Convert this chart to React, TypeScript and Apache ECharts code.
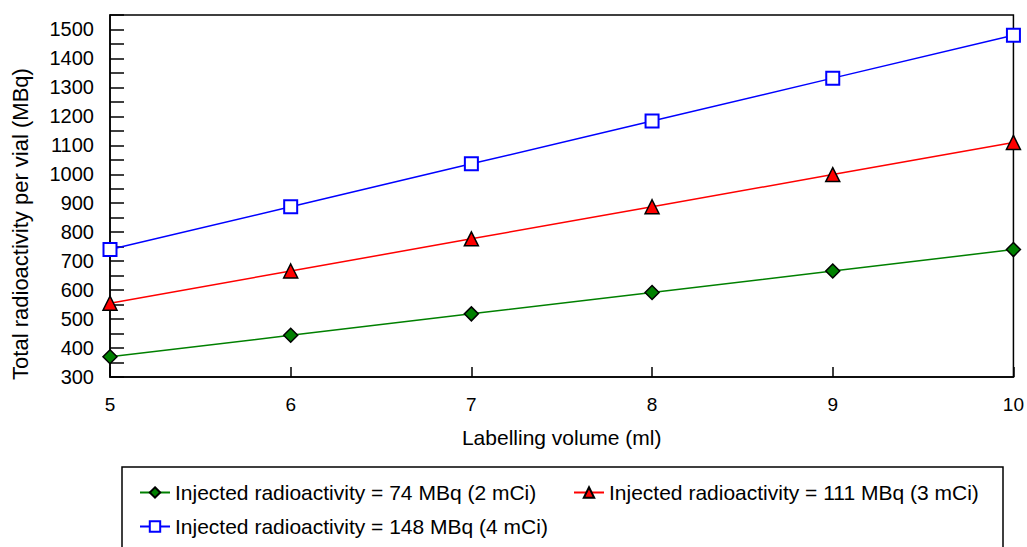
import React, { useEffect, useRef } from "react";
import * as echarts from "echarts";

const volumes = [5, 6, 7, 8, 9, 10];
const green74 = [370, 444, 518, 592, 666, 740];
const red111 = [555, 666, 777, 888, 999, 1110];
const blue148 = [740, 888, 1036, 1184, 1332, 1480];
const seriesNames = [
  "Injected radioactivity = 74 MBq (2 mCi)",
  "Injected radioactivity = 111 MBq (3 mCi)",
  "Injected radioactivity = 148 MBq (4 mCi)",
];

const FONT = "'Liberation Sans', Arial, sans-serif";

export default function App() {
  const ref = useRef<HTMLDivElement>(null);
  useEffect(() => {
    if (!ref.current) return;
    const chart = echarts.init(ref.current, undefined, { renderer: "svg" });
    const pair = (ys: number[]) => volumes.map((v, i) => [v, ys[i]]);
    const legendCommon = {
      orient: "horizontal" as const,
      itemWidth: 30,
      itemHeight: 13,
      textStyle: { fontSize: 21, color: "#000", fontFamily: FONT },
      selectedMode: false,
      padding: 0,
    };
    chart.setOption({
      animation: false,
      backgroundColor: "#fff",
      grid: {
        left: 110,
        right: 13,
        top: 15,
        bottom: 170,
        show: true,
        borderColor: "#000",
        borderWidth: 1.5,
      },
      xAxis: {
        type: "value",
        min: 5,
        max: 10,
        interval: 1,
        name: "Labelling volume (ml)",
        nameLocation: "middle",
        nameGap: 50,
        nameTextStyle: { fontSize: 21, color: "#000", fontFamily: FONT },
        axisLine: { lineStyle: { color: "#000", width: 1.5 } },
        axisTick: { inside: true, length: 10, lineStyle: { color: "#000", width: 1.5 } },
        axisLabel: { fontSize: 19, color: "#000", fontFamily: FONT, margin: 18 },
        splitLine: { show: false },
      },
      yAxis: {
        type: "value",
        min: 300,
        max: 1550,
        interval: 50,
        name: "Total radioactivity per vial (MBq)",
        nameLocation: "middle",
        nameGap: 79,
        nameRotate: 90,
        nameTextStyle: { fontSize: 22, color: "#000", fontFamily: FONT, padding: [0, 56, 0, 0] },
        axisLine: { lineStyle: { color: "#000", width: 1.5 } },
        axisTick: { inside: true, length: 14, lineStyle: { color: "#000", width: 1.5 } },
        axisLabel: {
          fontSize: 20,
          color: "#000",
          fontFamily: FONT,
          margin: 16,
          formatter: (v: number) => (v % 100 === 0 && v <= 1500 ? String(v) : ""),
        },
        splitLine: { show: false },
      },
      legend: [
        { ...legendCommon, left: 139, top: 482, data: [seriesNames[0]] },
        { ...legendCommon, left: 573, top: 482, data: [seriesNames[1]] },
        { ...legendCommon, left: 139, top: 516, data: [seriesNames[2]] },
      ],
      graphic: [
        {
          type: "rect",
          shape: { x: 122, y: 467, width: 881, height: 120 },
          style: { fill: "none", stroke: "#000", lineWidth: 1.5 },
          z: -1,
        },
      ],
      series: [
        {
          name: seriesNames[0],
          type: "line",
          data: pair(green74),
          symbol: "diamond",
          symbolSize: 14,
          clip: false,
          itemStyle: { color: "#008000", borderColor: "#000", borderWidth: 1.5 },
          lineStyle: { color: "#008000", width: 1.5 },
        },
        {
          name: seriesNames[1],
          type: "line",
          data: pair(red111),
          symbol: "triangle",
          symbolSize: 14,
          clip: false,
          itemStyle: { color: "#ff0000", borderColor: "#000", borderWidth: 1.5 },
          lineStyle: { color: "#ff0000", width: 1.5 },
        },
        {
          name: seriesNames[2],
          type: "line",
          data: pair(blue148),
          symbol: "emptyRect",
          symbolSize: 13,
          clip: false,
          itemStyle: { color: "#0000ff", borderWidth: 1.5 },
          lineStyle: { color: "#0000ff", width: 1.5 },
        },
      ],
    });
    return () => chart.dispose();
  }, []);
  return (
    <div
      ref={ref}
      style={{ position: "absolute", left: 0, top: 0, width: 1027, height: 547 }}
    />
  );
}
